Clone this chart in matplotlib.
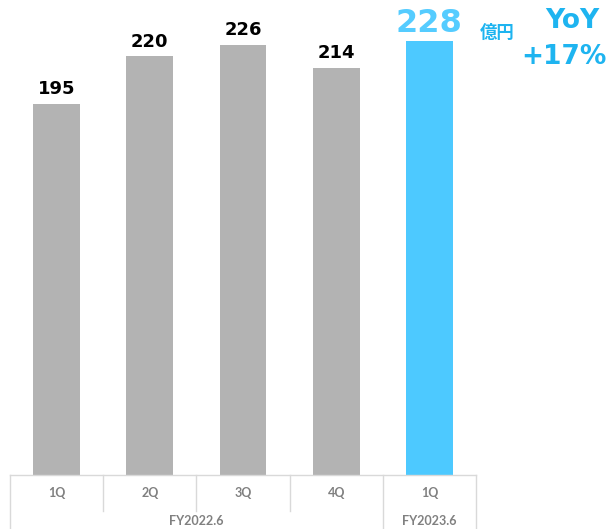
import matplotlib.pyplot as plt
from matplotlib.transforms import blended_transform_factory

quarters = ['1Q', '2Q', '3Q', '4Q', '1Q']
sales = [195, 220, 226, 214, 228]
groups = ['FY2022.6', 'FY2023.6']
group_spans = [(0, 3), (4, 4)]
bar_colors = ['#b3b3b3', '#b3b3b3', '#b3b3b3', '#b3b3b3', '#4dc9ff']

plt.rcParams['font.family'] = ['Noto Sans CJK JP', 'DejaVu Sans']

fig = plt.figure(figsize=(6.09, 5.29), dpi=100)
ax = fig.add_axes([10 / 609, 54 / 529, 466 / 609, 475 / 529])

x = list(range(len(sales)))
ax.bar(x, sales, width=0.5, color=bar_colors)
ax.set_xlim(-0.5, 4.5)
ax.set_ylim(0, 249.6)
ax.axis('off')

# value labels
for i, v in enumerate(sales[:-1]):
    ax.text(i, v + 3, str(v), ha='center', va='bottom', fontsize=13,
            fontweight='bold', color='black', family=['DejaVu Sans'])
ax.text(4, sales[-1] + 1, str(sales[-1]), ha='center', va='bottom', fontsize=23,
        fontweight='bold', color='#55ccff', family=['DejaVu Sans'])

fig.text(497 / 609, 1 - 33 / 529, '億円', ha='center', va='center', fontsize=12.5,
         fontweight='bold', color='#1eb4f0')
fig.text(572 / 609, 1 - 21 / 529, 'YoY', ha='center', va='center', fontsize=19,
         fontweight='bold', color='#1eb4f0', family=['DejaVu Sans'])
fig.text(564 / 609, 1 - 57 / 529, '+17%', ha='center', va='center', fontsize=19,
         fontweight='bold', color='#1eb4f0', family=['DejaVu Sans'])

# category table under the axis
tr = blended_transform_factory(ax.transData, ax.transAxes)
lc = '#d9d9d9'
row1 = -36 / 475
row2 = -54 / 475
ax.plot([-0.5, 4.5], [0, 0], color=lc, lw=1, transform=tr, clip_on=False)
for b in [0.5, 1.5, 2.5]:
    ax.plot([b, b], [0, row1], color=lc, lw=1, transform=tr, clip_on=False)
for b in [-0.5, 3.5, 4.5]:
    ax.plot([b, b], [0, row2], color=lc, lw=1, transform=tr, clip_on=False)

for i, q in enumerate(quarters):
    ax.text(i, -18 / 475, q, ha='center', va='center', fontsize=9,
            fontweight='bold', color='#808080', transform=tr,
            family=['Lato'])
for g, (a, b) in zip(groups, group_spans):
    ax.text((a + b) / 2, -46 / 475, g, ha='center', va='center', fontsize=9,
            fontweight='bold', color='#808080', transform=tr,
            family=['Lato'])

fig.savefig('out.png', dpi=100)
